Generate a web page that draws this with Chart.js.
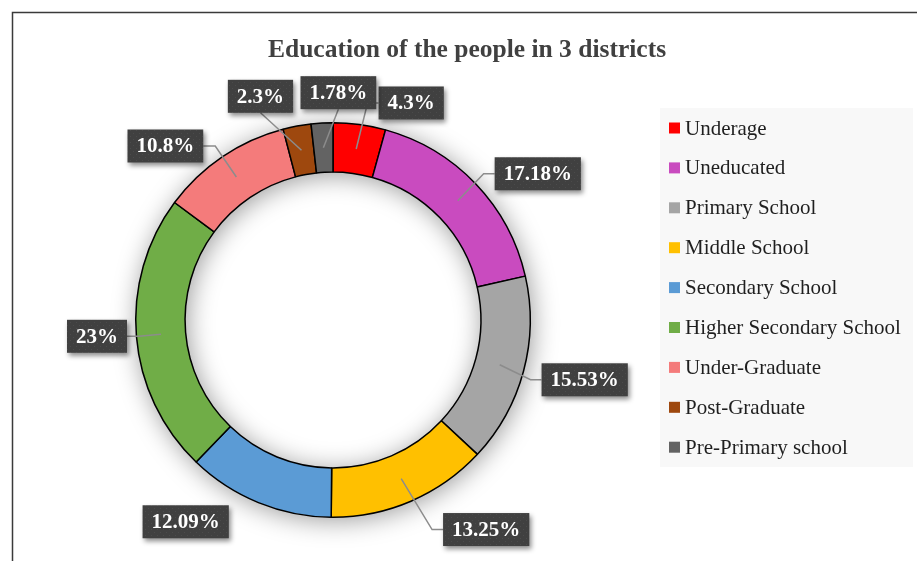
<!DOCTYPE html>
<html>
<head>
<meta charset="utf-8">
<title>Education of the people in 3 districts</title>
<script src="https://cdn.jsdelivr.net/npm/chart.js@4"></script>
<style>
    html, body { margin: 0; padding: 0; background: #fff; }
    #wrap { width: 917px; height: 561px; position: relative; }
</style>
</head>
<body>
<div id="wrap"><canvas id="edu-chart" width="917" height="561"></canvas></div>
<script>
const chartTitle = 'Education of the people in 3 districts';
const categories = ['Underage', 'Uneducated', 'Primary School', 'Middle School', 'Secondary School',
    'Higher Secondary School', 'Under-Graduate', 'Post-Graduate', 'Pre-Primary school'];
const shares = [4.3, 17.18, 15.53, 13.25, 12.09, 23, 10.8, 2.3, 1.78];
const shareLabels = ['4.3%', '17.18%', '15.53%', '13.25%', '12.09%', '23%', '10.8%', '2.3%', '1.78%'];
const sliceColors = ['#ff0000', '#c94bbf', '#a5a5a5', '#ffc000', '#5b9bd5', '#70ad47', '#f47b7b', '#9e480e', '#636363'];

// where each value box sits, relative to the middle of its slice, and where its leader line meets it
const labelOffsets = [[55, -46], [80, -27], [85, 15], [85, 51], [-82, 42], [-64, 2], [-71, -31], [-41, -54], [15, -55]];
const leaderSides = ['left', 'left', 'left', 'left', 'none', 'right', 'right', 'bottom', 'bottom'];

const serif = '"Liberation Serif", "Times New Roman", serif';

// small dotted texture used for the dark value boxes
const makeBoxPattern = (ctx) => {
    const c = document.createElement('canvas');
    c.width = 6; c.height = 6;
    const p = c.getContext('2d');
    p.fillStyle = '#404040';
    p.fillRect(0, 0, 6, 6);
    p.fillStyle = '#4b4b4b';
    p.fillRect(1, 1, 1, 1);
    p.fillRect(4, 4, 1, 1);
    return ctx.createPattern(c, 'repeat');
};

const frameAndTitle = {
    id: 'frameAndTitle',
    beforeDraw(chart) {
        const ctx = chart.ctx;
        ctx.save();
        ctx.strokeStyle = '#3a3a3a';
        ctx.lineWidth = 1.5;
        ctx.beginPath();
        ctx.moveTo(12.5, 561);
        ctx.lineTo(12.5, 12.5);
        ctx.lineTo(917, 12.5);
        ctx.stroke();

        ctx.fillStyle = '#404040';
        ctx.font = 'bold 25.5px ' + serif;
        ctx.textAlign = 'center';
        ctx.textBaseline = 'alphabetic';
        ctx.fillText(chartTitle, 467, 57);
        ctx.restore();
    }
};

// soft halo under the ring
const ringShadow = {
    id: 'ringShadow',
    beforeDatasetsDraw(chart) {
        const arc = chart.getDatasetMeta(0).data[0];
        if (!arc) return;
        const {x, y, outerRadius, innerRadius} = arc.getProps(['x', 'y', 'outerRadius', 'innerRadius'], true);
        const ctx = chart.ctx;
        ctx.save();
        ctx.shadowColor = 'rgba(0,0,0,0.4)';
        ctx.shadowBlur = 26;
        ctx.shadowOffsetX = 2;
        ctx.shadowOffsetY = 3;
        ctx.fillStyle = '#ffffff';
        ctx.beginPath();
        ctx.arc(x, y, outerRadius, 0, Math.PI * 2);
        ctx.arc(x, y, innerRadius, 0, Math.PI * 2, true);
        ctx.fill('evenodd');
        ctx.restore();
    }
};

const valueBoxes = {
    id: 'valueBoxes',
    afterDatasetsDraw(chart) {
        const ctx = chart.ctx;
        const arcs = chart.getDatasetMeta(0).data;
        const pattern = makeBoxPattern(ctx);
        ctx.save();
        ctx.font = 'bold 21px ' + serif;
        arcs.forEach((arc, i) => {
            const start = arc.getCenterPoint(true);
            const text = shareLabels[i];
            const w = ctx.measureText(text).width + 18;
            const h = 33;
            const cx = start.x + labelOffsets[i][0];
            const cy = start.y + labelOffsets[i][1];
            const left = cx - w / 2, right = cx + w / 2, top = cy - h / 2, bottom = cy + h / 2;

            // leader line
            const side = leaderSides[i];
            if (side !== 'none') {
                ctx.strokeStyle = '#8c8c8c';
                ctx.lineWidth = 1.5;
                ctx.beginPath();
                ctx.moveTo(start.x, start.y);
                if (side === 'left') {
                    ctx.lineTo(left - 11, cy);
                    ctx.lineTo(left, cy);
                } else if (side === 'right') {
                    ctx.lineTo(right + 12, cy);
                    ctx.lineTo(right, cy);
                } else {
                    ctx.lineTo(cx, bottom);
                }
                ctx.stroke();
            }

            ctx.save();
            ctx.shadowColor = 'rgba(0,0,0,0.45)';
            ctx.shadowBlur = 5;
            ctx.shadowOffsetX = 2;
            ctx.shadowOffsetY = 3;
            ctx.fillStyle = pattern;
            ctx.fillRect(left, top, w, h);
            ctx.restore();

            ctx.fillStyle = '#ffffff';
            ctx.textAlign = 'center';
            ctx.textBaseline = 'middle';
            ctx.fillText(text, cx, cy + 1);
        });
        ctx.restore();
    }
};

const sideLegend = {
    id: 'sideLegend',
    afterDraw(chart) {
        const ctx = chart.ctx;
        ctx.save();
        ctx.fillStyle = '#f8f8f8';
        ctx.fillRect(660, 108, 253, 359);
        ctx.font = '21px ' + serif;
        ctx.textAlign = 'left';
        ctx.textBaseline = 'middle';
        chart.data.labels.forEach((label, i) => {
            const y = 128 + i * 39.9;
            ctx.fillStyle = chart.data.datasets[0].backgroundColor[i];
            ctx.fillRect(669, y - 5.5, 11, 11);
            ctx.fillStyle = '#1f1f1f';
            ctx.fillText(label, 685, y + 1);
        });
        ctx.restore();
    }
};

new Chart(document.getElementById('edu-chart').getContext('2d'), {
    type: 'doughnut',
    data: {
        labels: categories,
        datasets: [{
            data: shares,
            backgroundColor: sliceColors,
            borderColor: '#000000',
            borderWidth: 1.5
        }]
    },
    options: {
        responsive: false,
        animation: false,
        cutout: '75%',
        layout: {
            padding: { left: 135, right: 386, top: 122, bottom: 43 }
        },
        plugins: {
            legend: { display: false },
            title: { display: false },
            tooltip: { enabled: false }
        }
    },
    plugins: [frameAndTitle, ringShadow, valueBoxes, sideLegend]
});
</script>
</body>
</html>
